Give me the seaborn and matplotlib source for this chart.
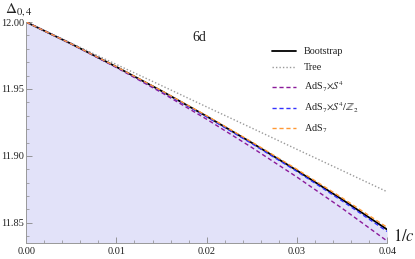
import matplotlib
matplotlib.use("Agg")
import matplotlib.pyplot as plt
import seaborn as sns
import pandas as pd
from matplotlib.ticker import MultipleLocator

inv_c = [0.0, 0.005, 0.01, 0.015, 0.02, 0.025, 0.03, 0.035, 0.04]
bootstrap = [12.0, 11.9837, 11.9665, 11.9485, 11.9296, 11.9098, 11.8891, 11.8675, 11.8450]
tree = [12.0, 11.9842, 11.9683, 11.9525, 11.9366, 11.9208, 11.9049, 11.8891, 11.8732]
ads7_s4 = [12.0, 11.9836, 11.9660, 11.9473, 11.9274, 11.9063, 11.8842, 11.8609, 11.8364]
ads7_s4_z2 = [12.0, 11.9837, 11.9665, 11.9483, 11.9292, 11.9092, 11.8884, 11.8664, 11.8436]
ads7 = [12.0, 11.9837, 11.9666, 11.9487, 11.9300, 11.9104, 11.8900, 11.8687, 11.8466]

labels = ["Bootstrap", "Tree", r"AdS$_7$$\times$$S^4$",
          r"AdS$_7$$\times$$S^4/\mathbb{Z}_2$", r"AdS$_7$"]

sns.set_style("white")
plt.rcParams['font.family'] = ['Liberation Serif', 'DejaVu Serif']
plt.rcParams['mathtext.fontset'] = 'stix'

fig = plt.figure(figsize=(4.15, 2.59), dpi=100)
ax = fig.add_axes([0.063, 0.062, 0.870, 0.853])

ymin = 11.835
ax.fill_between(inv_c, bootstrap, ymin, color='#e2e2f9', lw=0, zorder=0)

series = [(bootstrap, '#000000', '-', 1.3),
          (tree, '#999999', (0, (1, 1.5)), 1.0),
          (ads7_s4, '#8b1a9b', (0, (3, 2)), 1.0),
          (ads7_s4_z2, '#3333ff', (0, (3, 2)), 1.0),
          (ads7, '#ff9933', (0, (3, 2)), 1.0)]
for (vals, col, ls, lw), lab in zip(series, labels):
    df = pd.DataFrame({"x": inv_c, "y": vals})
    sns.lineplot(data=df, x="x", y="y", ax=ax, color=col, linestyle=ls,
                 lw=lw, label=lab)

ax.set_xlim(0, 0.04)
ax.set_ylim(ymin, 12.0)
ax.xaxis.set_major_locator(MultipleLocator(0.01))
ax.xaxis.set_minor_locator(MultipleLocator(0.002))
ax.yaxis.set_major_locator(MultipleLocator(0.05))
ax.yaxis.set_minor_locator(MultipleLocator(0.01))
ax.xaxis.set_major_formatter(plt.FormatStrFormatter('%.2f'))
ax.yaxis.set_major_formatter(plt.FormatStrFormatter('%.2f'))
ax.tick_params(axis='both', which='both', direction='in', labelsize=7.5,
               colors='#888888', labelcolor='#222222', left=True, bottom=True)
ax.tick_params(which='major', length=4, width=0.6, pad=1.2)
ax.tick_params(which='minor', length=2, width=0.5)
ax.tick_params(axis='x', pad=3)
for s in ['top', 'right']:
    ax.spines[s].set_visible(False)
for s in ['left', 'bottom']:
    ax.spines[s].set_color('#999999')
    ax.spines[s].set_linewidth(0.7)
ax.set_xlabel("")
ax.set_ylabel("")

fig.text(0.012, 0.995, r"$\Delta_{0,4}$", fontsize=11, va='top', ha='left', color='#222222')
fig.text(0.948, 0.085, r"$1/c$", fontsize=12, va='center', ha='left', color='#222222')
ax.text(0.48, 0.93, "6d", transform=ax.transAxes, fontsize=10, color='#222222',
        ha='center', va='center')

leg = ax.legend(loc='upper left', bbox_to_anchor=(0.67, 0.905), frameon=False,
                fontsize=7.3, handlelength=2.4, handletextpad=0.7, labelspacing=0.7,
                borderaxespad=0)
for t in leg.get_texts():
    t.set_color('#222222')

fig.savefig("out.png", dpi=100)
